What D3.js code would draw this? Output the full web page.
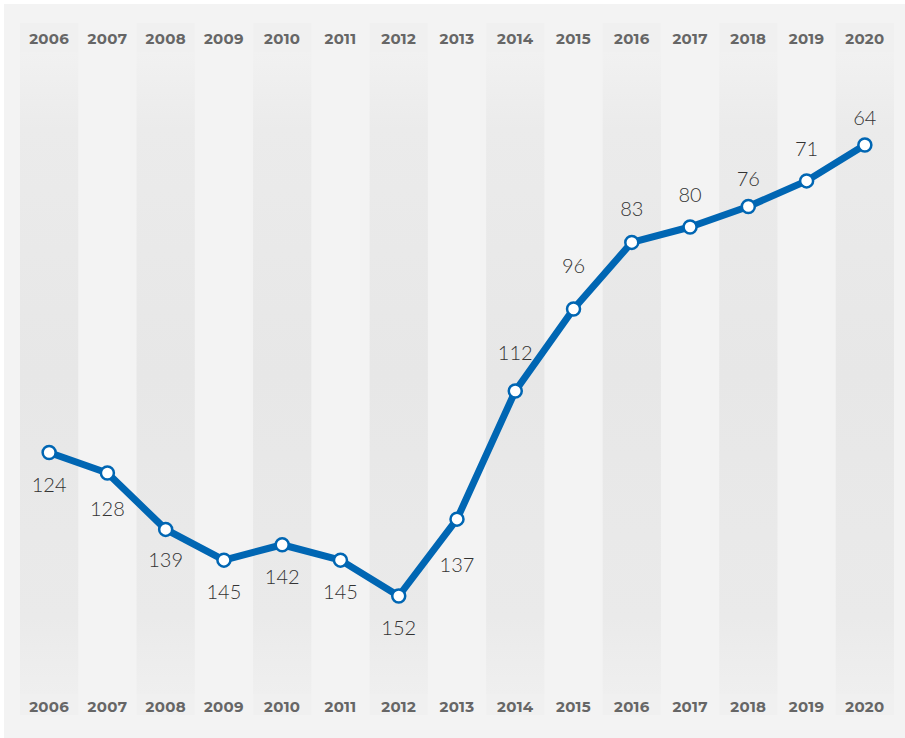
<!DOCTYPE html>
<html>
<head>
<meta charset="utf-8">
<script src="https://cdn.jsdelivr.net/npm/d3@7"></script>
<style>
  html, body { margin: 0; padding: 0; background: #ffffff; }
  svg { display: block; }
</style>
</head>
<body>
<svg id="chart" width="905" height="738"></svg>
<script>
// ---- data ----
const years = ["2006","2007","2008","2009","2010","2011","2012","2013","2014","2015","2016","2017","2018","2019","2020"];
const ranks = [124, 128, 139, 145, 142, 145, 152, 137, 112, 96, 83, 80, 76, 71, 64];
const labelSide = ["below","below","below","below","below","below","below","below","above","above","above","above","above","above","above"];

// ---- layout (label distance from point, px) ----
const labelGap = [32, 36, 31, 32, 32, 32, 32, 46, 38, 43, 33, 32, 28, 32, 27];

const W = 905, H = 738;
const svg = d3.select("#chart");
const defs = svg.append("defs");

const grad = defs.append("linearGradient")
  .attr("id", "bandGrad").attr("x1", 0).attr("y1", 0).attr("x2", 0).attr("y2", 1);
grad.append("stop").attr("offset", "0%").attr("stop-color", "#f1f1f1");
grad.append("stop").attr("offset", "12%").attr("stop-color", "#ebebeb");
grad.append("stop").attr("offset", "50%").attr("stop-color", "#e7e7e7");
grad.append("stop").attr("offset", "88%").attr("stop-color", "#eaeaea");
grad.append("stop").attr("offset", "100%").attr("stop-color", "#efefef");

// panel
svg.append("rect").attr("x", 4).attr("y", 4).attr("width", W - 4).attr("height", H - 4)
  .attr("fill", "#f3f3f3");

const x = d3.scaleBand().domain(years).range([20, 894]).padding(0);
const y = d3.scaleLinear().domain([64, 152]).range([145, 596]);

const bandTop = 23, bandBottom = 715;
const topLabelY = 39, bottomLabelY = 707;

// alternating bands
svg.append("g").selectAll("g.band")
  .data(years.filter((d, i) => i % 2 === 0))
  .join("g")
  .each(function (d) {
    const g = d3.select(this);
    g.append("rect")
      .attr("x", x(d)).attr("y", 52)
      .attr("width", x.bandwidth()).attr("height", 694 - 52)
      .attr("fill", "url(#bandGrad)");
    g.append("rect")
      .attr("x", x(d)).attr("y", bandTop)
      .attr("width", x.bandwidth()).attr("height", 52 - bandTop)
      .attr("fill", "#f0f0f0");
    g.append("rect")
      .attr("x", x(d)).attr("y", 694)
      .attr("width", x.bandwidth()).attr("height", bandBottom - 694)
      .attr("fill", "#f0f0f0");
  });

// axes (top and bottom year labels)
const fontYear = "Montserrat, Lato, 'Open Sans', sans-serif";
const topAxis = d3.axisTop(x).tickSize(0).tickPadding(0);
const bottomAxis = d3.axisBottom(x).tickSize(0).tickPadding(0);

const gTop = svg.append("g").attr("transform", `translate(0,${topLabelY})`).call(topAxis);
const gBot = svg.append("g").attr("transform", `translate(0,${bottomLabelY})`).call(bottomAxis);
[gTop, gBot].forEach(g => {
  g.select(".domain").remove();
  g.selectAll("text")
    .attr("y", 0).attr("dy", "0.35em")
    .attr("fill", "#666666")
    .style("font-family", fontYear)
    .style("font-weight", "700")
    .style("font-size", "15px")
    .style("letter-spacing", "0.3px");
});

// line
const pts = years.map((yr, i) => ({ year: yr, rank: ranks[i], side: labelSide[i], gap: labelGap[i] }));
const cx = d => x(d.year) + x.bandwidth() / 2;

svg.append("path")
  .datum(pts)
  .attr("fill", "none")
  .attr("stroke", "#0066b3")
  .attr("stroke-width", 7)
  .attr("stroke-linejoin", "round")
  .attr("d", d3.line().x(cx).y(d => y(d.rank)));

svg.append("g").selectAll("circle")
  .data(pts)
  .join("circle")
  .attr("cx", cx)
  .attr("cy", d => y(d.rank))
  .attr("r", 6.5)
  .attr("fill", "#ffffff")
  .attr("stroke", "#0066b3")
  .attr("stroke-width", 2.5);

// value labels
svg.append("g").selectAll("text")
  .data(pts)
  .join("text")
  .attr("x", cx)
  .attr("y", d => y(d.rank) + (d.side === "below" ? d.gap : -d.gap))
  .attr("dy", "0.35em")
  .attr("text-anchor", "middle")
  .attr("fill", "#333333")
  .style("font-family", "Lato, 'Open Sans', sans-serif")
  .style("font-weight", "300")
  .style("font-size", "20px")
  .text(d => d.rank);
</script>
</body>
</html>
